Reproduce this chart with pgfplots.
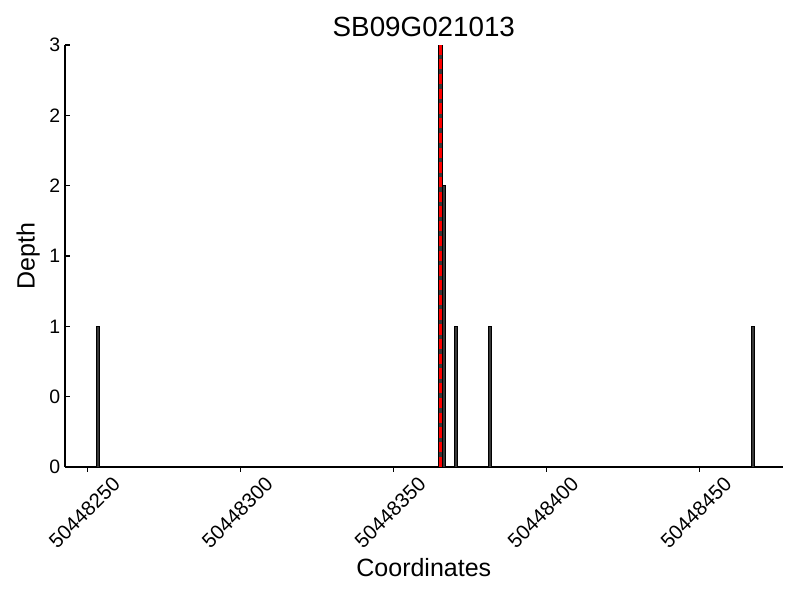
\documentclass[border=0pt]{standalone}
\usepackage{fontspec}
\setmainfont{Liberation Sans}
\usepackage{pgfplots}
\pgfplotsset{compat=1.18}

% x values are given relative to 50448000
\pgfplotstableread{
x      y
253.3  1
365.4  3
366.5  2
370.4  1
381.5  1
467.5  1
}\depth

\begin{document}
\begin{tikzpicture}
\path[use as bounding box] (-46.8bp,-95.76bp) rectangle (529.2bp,336.24bp);
\begin{axis}[
  at={(0,0)}, anchor=south west,
  scale only axis,
  width=516.7bp, height=303.84bp,
  xmin=242.6, xmax=477.3,
  ymin=0, ymax=3,
  axis lines*=left,
  axis line style={black, line width=0.8bp, -},
  tick align=inside,
  major tick length=3.5bp,
  tick style={black, line width=0.8bp},
  xtick={250,300,350,400,450},
  xticklabels={50448250,50448300,50448350,50448400,50448450},
  ytick={0,0.5,1,1.5,2,2.5,3},
  yticklabels={0,0,1,1,2,2,3},
  /pgf/number format/assume math mode=true,
  tick label style={font=\fontsize{14bp}{16bp}\selectfont},
  xticklabel style={xshift=-2.3bp, yshift=-29.5bp, rotate=45, anchor=center, font=\fontsize{14.6bp}{16bp}\selectfont},
  title={SB09G021013},
  title style={at={(axis description cs:0.5,1.022)}, anchor=center, font=\fontsize{20bp}{24bp}\selectfont},
  xlabel={Coordinates},
  xlabel style={at={(axis description cs:0.5,-0.2393)}, anchor=center, font=\fontsize{18bp}{22bp}\selectfont},
  ylabel={Depth},
  ylabel style={at={(axis description cs:-0.0515,0.5)}, anchor=center, rotate=0, font=\fontsize{18bp}{22bp}\selectfont},
  ybar, bar width=1, bar shift=0pt,
]
\addplot[fill=black!78, draw=black, line width=0.7bp] table[x=x, y=y] {\depth};
\addplot[sharp plot, red, line width=2bp, dash pattern=on 7.4bp off 3.2bp] coordinates {(365.4,0) (365.4,3)};
\end{axis}
\end{tikzpicture}
\end{document}
